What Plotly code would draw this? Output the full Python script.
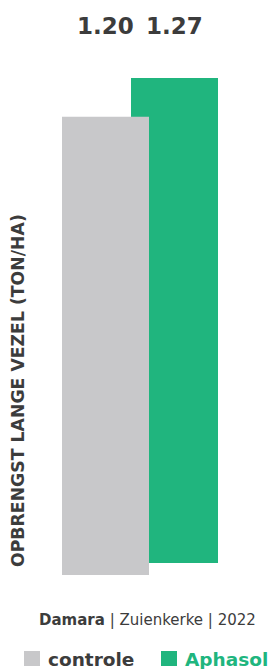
import plotly.graph_objects as go

categories = ["controle", "Aphasol"]
values = [1.20, 1.27]
colors = ["#C8C8CA", "#20B57E"]
label_colors = ["#3C3C3C", "#20B57E"]
y_title = "OPBRENGST LANGE VEZEL (TON/HA)"
subtitle_bold = "Damara"
subtitle_rest = " | Zuienkerke | 2022"

W, H = 272, 669
FONT = "DejaVu Sans"
TXT = "#3C3C3C"

def px(x):
    return x / W

def py(y):
    return 1 - y / H

fig = go.Figure()

# green (Aphasol) on x/y (drawn first, behind); gray (controle) on x2/y2 (on top)
fig.add_trace(go.Bar(x=[categories[1]], y=[values[1]], marker=dict(color=colors[1], line=dict(width=0)),
                     width=1, xaxis="x", yaxis="y", showlegend=False, hoverinfo="skip"))
fig.add_trace(go.Bar(x=[categories[0]], y=[values[0]], marker=dict(color=colors[0], line=dict(width=0)),
                     width=1, xaxis="x2", yaxis="y2", showlegend=False, hoverinfo="skip"))

yr = [0, 1.4]
scale = 381.8  # px per unit
span = (yr[1] - yr[0]) * scale

ax_common = dict(visible=False, showgrid=False, zeroline=False, fixedrange=True)
fig.update_layout(
    width=W, height=H,
    margin=dict(l=0, r=0, t=0, b=0),
    paper_bgcolor="white", plot_bgcolor="rgba(0,0,0,0)",
    xaxis=dict(domain=[px(131), px(218)], range=[-0.5, 0.5], type="category", **ax_common),
    yaxis=dict(domain=[py(563), py(563 - span)], range=yr, **ax_common),
    xaxis2=dict(domain=[px(62), px(149)], range=[-0.5, 0.5], type="category", anchor="y2", **ax_common),
    yaxis2=dict(domain=[py(575), py(575 - span)], range=yr, anchor="x2", **ax_common),
    showlegend=False,
)

annotations = []
# value labels above bars
annotations.append(dict(x=categories[0], xref="x2", y=py(26), yref="paper", text=f"{values[0]:.2f}",
                        showarrow=False, font=dict(family=FONT, size=23, color=TXT, weight="bold"),
                        xanchor="center", yanchor="middle"))
annotations.append(dict(x=categories[1], xref="x", y=py(26), yref="paper", text=f"{values[1]:.2f}",
                        showarrow=False, font=dict(family=FONT, size=23, color=TXT, weight="bold"),
                        xanchor="center", yanchor="middle"))
# y title
annotations.append(dict(x=px(18), xref="paper", y=py(391), yref="paper", text=y_title, textangle=-90,
                        showarrow=False, font=dict(family=FONT, size=17.3, color=TXT, weight="bold"),
                        xanchor="center", yanchor="middle"))
# subtitle
annotations.append(dict(x=px(147), xref="paper", y=py(620), yref="paper",
                        text=f"<b>{subtitle_bold}</b>{subtitle_rest}",
                        showarrow=False, font=dict(family=FONT, size=15, color=TXT),
                        xanchor="center", yanchor="middle"))
# legend texts
annotations.append(dict(x=px(46), xref="paper", y=py(659), yref="paper", text=categories[0],
                        showarrow=False, font=dict(family=FONT, size=18.5, color=label_colors[0], weight="bold"),
                        xanchor="left", yanchor="middle"))
annotations.append(dict(x=px(183), xref="paper", y=py(659), yref="paper", text=categories[1],
                        showarrow=False, font=dict(family=FONT, size=18.5, color=label_colors[1], weight="bold"),
                        xanchor="left", yanchor="middle"))

shapes = [
    dict(type="rect", xref="paper", yref="paper", x0=px(24), x1=px(40), y0=py(666), y1=py(651),
         fillcolor=colors[0], line=dict(width=0)),
    dict(type="rect", xref="paper", yref="paper", x0=px(161), x1=px(177), y0=py(666), y1=py(651),
         fillcolor=colors[1], line=dict(width=0)),
]

fig.update_layout(annotations=annotations, shapes=shapes)
fig.write_html("out.html",
               config={"displayModeBar": False, "staticPlot": True},
               post_script="document.body.style.margin='0';document.body.style.padding='0';"
                           "document.documentElement.style.overflow='hidden';")
